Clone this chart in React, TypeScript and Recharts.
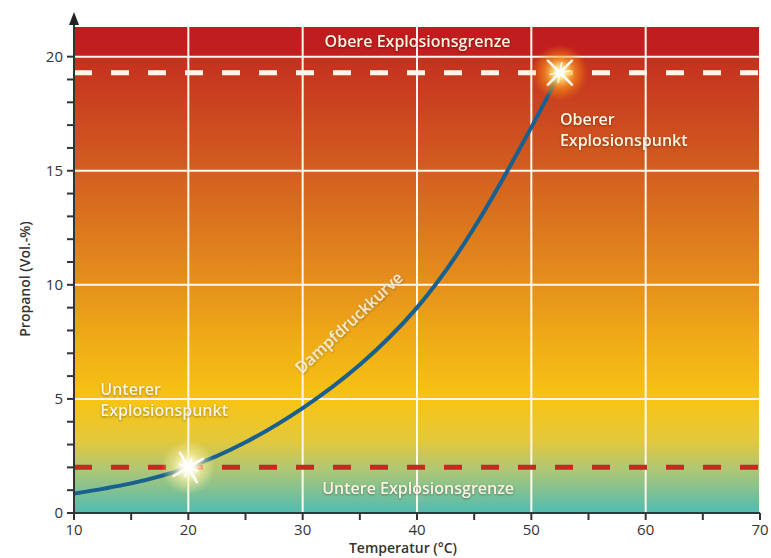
import { LineChart, Line, XAxis, YAxis, CartesianGrid, ReferenceLine, ReferenceDot, Label } from 'recharts';

// Dampfdruckkurve Propanol: Temperatur (°C) -> Vol.-%
const temps = [10, 15, 20, 25, 30, 35, 40, 45, 50, 52.5];
const propanol = [0.85, 1.3, 2.0, 3.1, 4.6, 6.5, 9.0, 12.5, 16.9, 19.3];

const xTicks = [10, 15, 20, 25, 30, 35, 40, 45, 50, 55, 60, 65, 70];
const yTicks = [0, 1, 2, 3, 4, 5, 6, 7, 8, 9, 10, 11, 12, 13, 14, 15, 16, 17, 18, 19, 20];
const gridX = [20, 30, 40, 50, 60, 70];
const gridY = [5, 10, 15, 20];

const obereGrenze = 19.3;
const untereGrenze = 2.0;
const unterPunkt = { t: 20, v: 2.0 };
const oberPunkt = { t: 52.5, v: 19.3 };
const yMax = 21.3;

const data = temps.map((t, i) => ({ t, v: propanol[i] }));

const FONT = '"Open Sans", "Noto Sans", sans-serif';
const TXT = '#fff4e0';

const XTick = (props: any) => {
  const { x, y, payload } = props;
  const major = payload.value % 10 === 0;
  return (
    <g>
      <line x1={x} y1={y} x2={x} y2={y + 7} stroke="#333" strokeWidth={2} />
      {major && (
        <text x={x} y={y + 22} textAnchor="middle" fontSize={15} fill="#333" fontFamily={FONT}>
          {payload.value}
        </text>
      )}
    </g>
  );
};

const YTick = (props: any) => {
  const { x, y, payload } = props;
  const major = payload.value % 5 === 0;
  return (
    <g>
      <line x1={x - 7} y1={y} x2={x} y2={y} stroke="#333" strokeWidth={2} />
      {major && (
        <text x={x - 11} y={y + 5} textAnchor="end" fontSize={15} fill="#333" fontFamily={FONT}>
          {payload.value}
        </text>
      )}
    </g>
  );
};

const Glow = ({ cx, cy, kind }: any) => {
  const id = kind === 'top' ? 'glowTop' : 'glowLow';
  const rays = kind === 'top' ? [45, 135, 100, 170] : [60, 150, 20, 110];
  return (
    <g>
      <circle cx={cx} cy={cy} r={kind === 'top' ? 28 : 27} fill={`url(#${id})`} />
      {rays.map((a, i) => {
        const len = i < 2 ? 17 : 10;
        const dx = Math.cos((a * Math.PI) / 180) * len;
        const dy = Math.sin((a * Math.PI) / 180) * len;
        return (
          <line key={i} x1={cx - dx} y1={cy - dy} x2={cx + dx} y2={cy + dy} stroke="#fff" strokeWidth={i < 2 ? 2.5 : 1.5} strokeLinecap="round" opacity={0.95} />
        );
      })}
      <circle cx={cx} cy={cy} r={4} fill="#fff" />
    </g>
  );
};

// one <text> per line so the lines stay separate
const Note = ({ cx, cy, lines, anchor = 'start', angle = 0, size = 16 }: any) => (
  <g transform={angle ? `rotate(${angle} ${cx} ${cy})` : undefined} style={{ filter: 'drop-shadow(0px 1px 1px rgba(0,0,0,0.35))' }}>
    {lines.map((l: string, i: number) => (
      <text key={i} x={cx} y={cy + i * 21} textAnchor={anchor} fontSize={size} fontWeight={600} fill={TXT} fontFamily={FONT}>
        {l}
      </text>
    ))}
  </g>
);

const Arrow = ({ cx, cy }: any) => (
  <g>
    <line x1={cx} y1={cy} x2={cx} y2={cy - 4} stroke="#333" strokeWidth={2} />
    <polygon points={`${cx},${cy - 15} ${cx - 5},${cy - 2} ${cx + 5},${cy - 2}`} fill="#222" />
  </g>
);

export default function App() {
  return (
    <div style={{ position: 'absolute', left: 0, top: 0, background: '#fff' }}>
      <LineChart width={771} height={558} data={data} margin={{ top: 27, right: 11, bottom: 15, left: 24 }}>
        <defs>
          <linearGradient id="bg" x1="0" y1="0" x2="0" y2="1">
            <stop offset="0%" stopColor="#c01c1f" />
            <stop offset="6.1%" stopColor="#c21f1f" />
            <stop offset="6.1%" stopColor="#c4301f" />
            <stop offset="29.5%" stopColor="#d35e1f" />
            <stop offset="53%" stopColor="#e5901c" />
            <stop offset="65%" stopColor="#f0ad16" />
            <stop offset="77%" stopColor="#f7c414" />
            <stop offset="85%" stopColor="#e4c83c" />
            <stop offset="91%" stopColor="#b0c774" />
            <stop offset="100%" stopColor="#4fbcb2" />
          </linearGradient>
          <radialGradient id="glowLow">
            <stop offset="0%" stopColor="#ffffff" stopOpacity={1} />
            <stop offset="25%" stopColor="#fffbe6" stopOpacity={0.95} />
            <stop offset="55%" stopColor="#fff4a8" stopOpacity={0.55} />
            <stop offset="100%" stopColor="#fff0a0" stopOpacity={0} />
          </radialGradient>
          <radialGradient id="glowTop">
            <stop offset="0%" stopColor="#ffffff" stopOpacity={1} />
            <stop offset="22%" stopColor="#ffe88a" stopOpacity={0.95} />
            <stop offset="55%" stopColor="#ffa020" stopOpacity={0.6} />
            <stop offset="100%" stopColor="#ff8a00" stopOpacity={0} />
          </radialGradient>
        </defs>
        <CartesianGrid
          fill="url(#bg)"
          fillOpacity={1}
          stroke="#fff8ee"
          strokeWidth={2}
          horizontalValues={gridY}
          verticalValues={gridX}
        />
        <XAxis
          dataKey="t"
          type="number"
          domain={[10, 70]}
          ticks={xTicks}
          interval={0}
          height={30}
          tickLine={false}
          tickSize={0}
          tickMargin={0}
          tick={<XTick />}
          axisLine={{ stroke: '#2b3b3b', strokeWidth: 2 }}
        >
          <Label
            content={(p: any) => (
              <text x={p.viewBox.x + p.viewBox.width / 2 - 14} y={553} textAnchor="middle" fontSize={14} fontWeight={600} fill="#333" fontFamily={FONT}>
                Temperatur (°C)
              </text>
            )}
          />
        </XAxis>
        <YAxis
          type="number"
          domain={[0, yMax]}
          ticks={yTicks}
          interval={0}
          width={50}
          tickLine={false}
          tickSize={0}
          tickMargin={0}
          tick={<YTick />}
          axisLine={{ stroke: '#333', strokeWidth: 2 }}
        >
          <Label
            content={() => (
              <text x={26} y={279} textAnchor="middle" fontSize={14} fontWeight={600} fill="#333" fontFamily={FONT} transform="rotate(-90 26 279)" dominantBaseline="middle">
                Propanol (Vol.-%)
              </text>
            )}
          />
        </YAxis>
        <ReferenceLine y={obereGrenze} stroke="#fff6ea" strokeWidth={5} strokeDasharray="18 19" />
        <ReferenceLine y={untereGrenze} stroke="#c8281e" strokeWidth={5} strokeDasharray="18 19" />
        <ReferenceDot x={40.05} y={20.42} r={0} shape={(p: any) => <Note {...p} lines={['Obere Explosionsgrenze']} anchor="middle" />} />
        <ReferenceDot x={40.1} y={0.83} r={0} shape={(p: any) => <Note {...p} lines={['Untere Explosionsgrenze']} anchor="middle" />} />
        <ReferenceDot x={12.3} y={5.15} r={0} shape={(p: any) => <Note {...p} lines={['Unterer', 'Explosionspunkt']} />} />
        <ReferenceDot x={52.5} y={17.0} r={0} shape={(p: any) => <Note {...p} lines={['Oberer', 'Explosionspunkt']} />} />
        <ReferenceDot x={34.4} y={8.15} r={0} shape={(p: any) => <Note {...p} lines={['Dampfdruckkurve']} anchor="middle" angle={-43} />} />
        <Line
          dataKey="v"
          type="natural"
          stroke="#17608f"
          strokeWidth={4}
          dot={false}
          activeDot={false}
          isAnimationActive={false}
        />
        <ReferenceDot x={unterPunkt.t} y={unterPunkt.v} r={0} shape={(p: any) => <Glow {...p} kind="low" />} />
        <ReferenceDot x={oberPunkt.t} y={oberPunkt.v} r={0} shape={(p: any) => <Glow {...p} kind="top" />} />
        <ReferenceDot x={10} y={yMax} r={0} ifOverflow="visible" shape={(p: any) => <Arrow {...p} />} />
      </LineChart>
    </div>
  );
}
